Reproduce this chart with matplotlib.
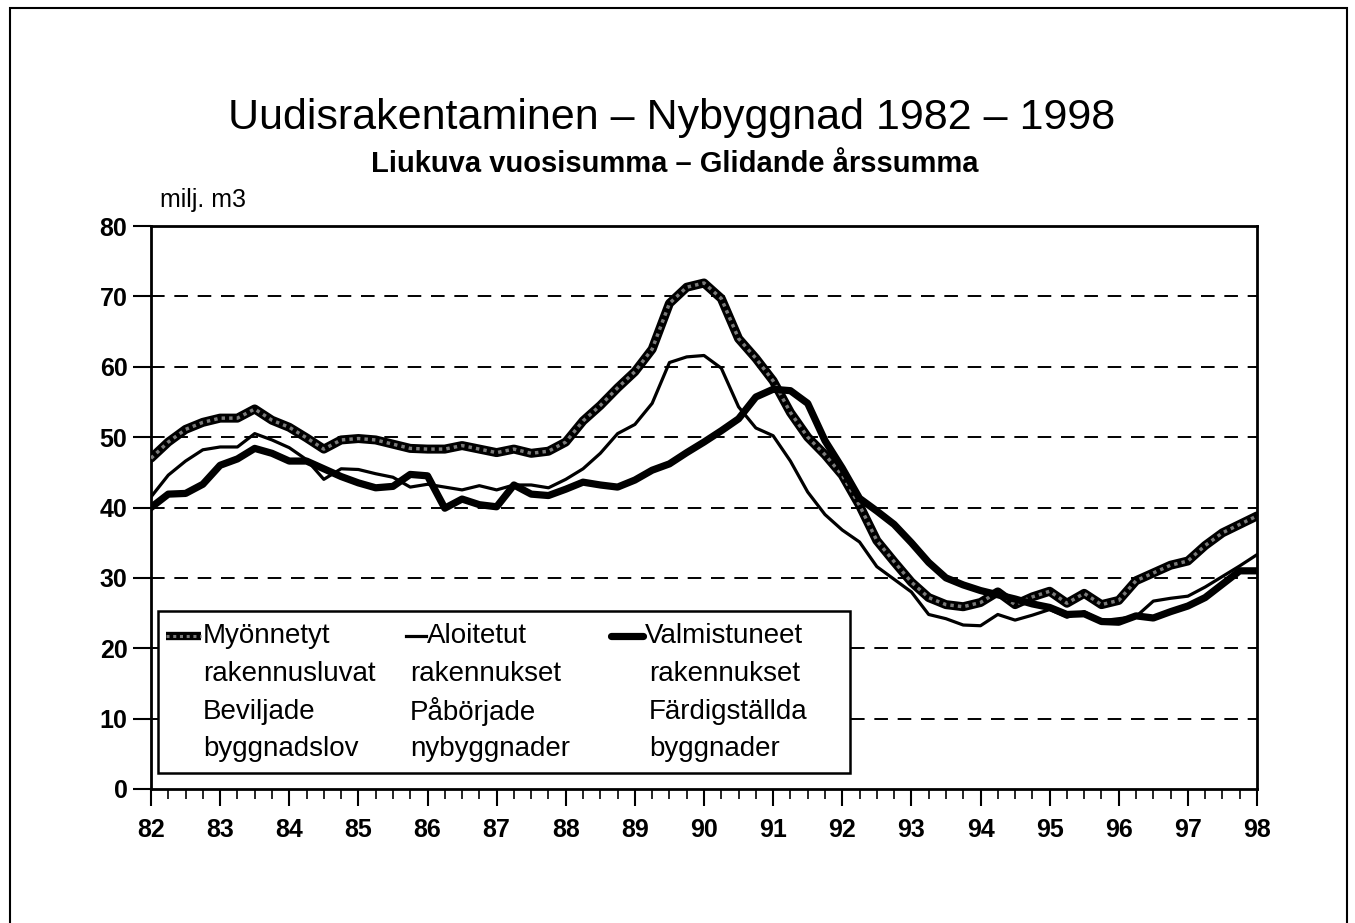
import numpy as np
import matplotlib
matplotlib.use("Agg")
import matplotlib.pyplot as plt
from matplotlib.lines import Line2D
from matplotlib.patches import Rectangle

plt.rcParams['font.family'] = ['Liberation Sans', 'DejaVu Sans']

# quarterly x positions 82.00 ... 98.00
years = np.arange(82, 98.001, 0.25)

myonnetyt = [47.0, 49.3, 51.1, 52.1, 52.7, 52.7, 54.0, 52.4, 51.4, 49.9, 48.3, 49.6,
             49.8, 49.6, 49.0, 48.4, 48.3, 48.3, 48.8, 48.3, 47.8, 48.3, 47.7, 48.0,
             49.3, 52.3, 54.5, 57.0, 59.3, 62.5, 69.0, 71.3, 71.9, 69.7, 64.0, 61.2,
             58.0, 53.5, 50.0, 47.5, 44.6, 40.3, 35.3, 32.3, 29.4, 27.2, 26.2, 25.9,
             26.5, 28.0, 26.2, 27.3, 28.1, 26.4, 27.8, 26.2, 26.8, 29.6, 30.7, 31.8,
             32.4, 34.6, 36.4, 37.6, 38.8]
aloitetut = [41.5, 44.6, 46.6, 48.2, 48.6, 48.6, 50.5, 49.6, 48.5, 46.8, 44.0, 45.5,
             45.4, 44.8, 44.3, 42.9, 43.3, 42.9, 42.5, 43.1, 42.5, 43.2, 43.2, 42.8,
             44.0, 45.5, 47.7, 50.5, 51.8, 54.8, 60.6, 61.4, 61.6, 59.8, 54.3, 51.3,
             50.2, 46.6, 42.2, 39.0, 36.8, 35.1, 31.6, 29.8, 28.0, 24.8, 24.2, 23.3,
             23.2, 24.8, 24.0, 24.7, 25.5, 24.4, 25.2, 23.9, 24.2, 24.5, 26.7, 27.1,
             27.4, 28.7, 30.2, 31.7, 33.3]
valmistuneet = [40.0, 41.9, 42.0, 43.3, 46.0, 46.9, 48.4, 47.7, 46.6, 46.6, 45.5, 44.4,
                43.5, 42.8, 43.0, 44.7, 44.5, 39.9, 41.2, 40.4, 40.1, 43.2, 41.9, 41.7,
                42.6, 43.6, 43.2, 42.9, 43.9, 45.3, 46.2, 47.8, 49.3, 50.9, 52.6, 55.7,
                56.8, 56.6, 54.8, 49.5, 45.6, 41.3, 39.5, 37.6, 35.0, 32.2, 30.0, 29.0,
                28.2, 27.6, 27.0, 26.3, 25.8, 24.8, 24.9, 23.8, 23.7, 24.6, 24.3, 25.2,
                26.0, 27.2, 29.1, 31.0, 31.0]

x_ticks = list(range(82, 99))
x_labels = [str(v) for v in x_ticks]
y_ticks = list(range(0, 81, 10))

legend_labels = [
    ["Myönnetyt", "rakennusluvat", "Beviljade", "byggnadslov"],
    ["Aloitetut", "rakennukset", "Påbörjade", "nybyggnader"],
    ["Valmistuneet", "rakennukset", "Färdigställda", "byggnader"],
]

W, H = 1355, 923
AX_L, AX_R, AX_T, AX_B = 151, 1257, 226, 789
fig = plt.figure(figsize=(W / 100, H / 100), dpi=100)
ax = fig.add_axes([AX_L / W, 1 - AX_B / H, (AX_R - AX_L) / W, (AX_B - AX_T) / H])


def grey_line(axis, x, y, lw_out=6.5, **kw):
    axis.plot(x, y, color='black', lw=lw_out, solid_joinstyle='round',
              solid_capstyle='round', zorder=3, **kw)
    axis.plot(x, y, color='#7a7a7a', lw=lw_out * 0.38, ls=(0, (1, 1.2)),
              dash_joinstyle='round', zorder=3.1, **kw)


# series
grey_line(ax, years, myonnetyt)
ax.plot(years, aloitetut, color='black', lw=2.3, solid_joinstyle='round', zorder=4)
ax.plot(years, valmistuneet, color='black', lw=5.2, solid_joinstyle='round', zorder=5)

ax.set_xlim(82, 98)
ax.set_ylim(0, 80)
ax.set_xticks(x_ticks)
ax.set_xticklabels(x_labels)
ax.set_xticks(np.arange(82, 98.001, 0.25), minor=True)
ax.set_yticks(y_ticks)
for y in y_ticks[1:-1]:
    ax.axhline(y, color='black', lw=1.4, ls=(0, (7, 5)), zorder=1)

ax.tick_params(axis='x', which='major', direction='out', length=12, width=1.5,
               labelsize=18, pad=9)
ax.tick_params(axis='x', which='minor', direction='out', length=7, width=1.2)
ax.tick_params(axis='y', which='major', direction='out', length=13, width=1.5,
               labelsize=18, pad=4)
for lab in ax.get_xticklabels() + ax.get_yticklabels():
    lab.set_fontweight('bold')
for s in ax.spines.values():
    s.set_linewidth(2)


def ax_coords(px, py):
    return ((px - AX_L) / (AX_R - AX_L), (AX_B - py) / (AX_B - AX_T))


# legend box drawn manually
lx0, ly0, lx1, ly1 = 158, 611, 850, 773
bx0, by0 = ax_coords(lx0, ly1)
bx1, by1 = ax_coords(lx1, ly0)
ax.add_patch(Rectangle((bx0, by0), bx1 - bx0, by1 - by0, transform=ax.transAxes,
                       facecolor='white', edgecolor='black', lw=1.8, zorder=10))
col_line = [(166, 201), (406, 426), (611, 643)]
col_text0 = [203, 427, 645]
col_text = [203, 410, 649]
row_y = [636, 674, 712, 749]
for c in range(3):
    xa, _ = ax_coords(col_line[c][0], 0)
    xb, _ = ax_coords(col_line[c][1], 0)
    _, yl = ax_coords(0, row_y[0])
    if c == 0:
        ax.plot([xa, xb], [yl, yl], transform=ax.transAxes, color='black', lw=6.0,
                solid_capstyle='butt', zorder=11)
        ax.plot([xa, xb], [yl, yl], transform=ax.transAxes, color='#7a7a7a', lw=2.2,
                ls=(0, (1, 1.2)), zorder=11.1)
    elif c == 1:
        ax.add_line(Line2D([xa, xb], [yl, yl], transform=ax.transAxes, color='black',
                           lw=2.3, zorder=11))
    else:
        ax.add_line(Line2D([xa, xb], [yl, yl], transform=ax.transAxes, color='black',
                           lw=5.2, solid_capstyle='round', zorder=11))
    for r, txt in enumerate(legend_labels[c]):
        tx, ty = ax_coords(col_text0[c] if r == 0 else col_text[c], row_y[r])
        ax.text(tx, ty, txt, transform=ax.transAxes, fontsize=20, va='center',
                ha='left', zorder=12)

# titles
fig.text(672 / W, 1 - 118 / H, "Uudisrakentaminen – Nybyggnad 1982 – 1998",
         fontsize=31, ha='center', va='center')
fig.text(675 / W, 1 - 164 / H, "Liukuva vuosisumma – Glidande årssumma",
         fontsize=21, ha='center', va='center', fontweight='bold')
fig.text(160 / W, 1 - 200 / H, "milj. m3", fontsize=18, ha='left', va='center')

# page border
fig.add_artist(Rectangle((10 / W, -0.02), (1347 - 10) / W, 1 - 8 / H + 0.02,
                         transform=fig.transFigure, fill=False, edgecolor='black', lw=1.5))

fig.savefig('out.png', dpi=100)
